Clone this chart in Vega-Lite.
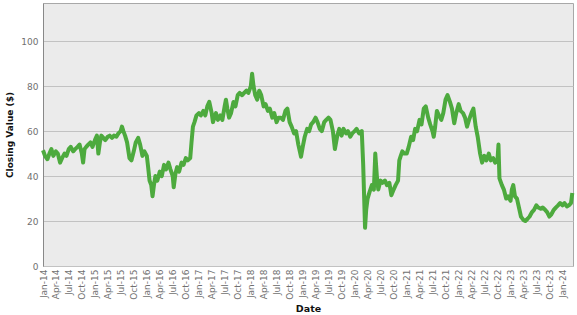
{
  "$schema": "https://vega.github.io/schema/vega-lite/v6.json",
  "width": 530,
  "height": 263,
  "autosize": {"type": "none"},
  "padding": {"left": 43, "top": 3, "right": 4, "bottom": 49},
  "background": "#ffffff",
  "config": {
    "view": {"fill": "#EBEBEB", "stroke": "#A8A8A8", "strokeWidth": 1},
    "axis": {"labelFont": "DejaVu Sans", "titleFont": "DejaVu Sans", "labelColor": "#707070", "titleColor": "#111111", "titleFontWeight": "bold"}
  },
  "data": {"values": [
    {"d":"2014-01-01","v":51.5},{"d":"2014-01-15","v":49},{"d":"2014-02-01","v":47.5},{"d":"2014-02-15","v":50},{"d":"2014-03-01","v":52},{"d":"2014-03-15","v":49},{"d":"2014-04-01","v":51},{"d":"2014-04-15","v":50},{"d":"2014-05-01","v":46},{"d":"2014-05-15","v":48},{"d":"2014-06-01","v":50},{"d":"2014-06-15","v":49},{"d":"2014-07-01","v":52},{"d":"2014-07-15","v":53},{"d":"2014-08-01","v":51},{"d":"2014-08-15","v":52},{"d":"2014-09-01","v":53},{"d":"2014-09-15","v":54},{"d":"2014-10-01","v":50},{"d":"2014-10-10","v":46},{"d":"2014-10-20","v":52},{"d":"2014-11-01","v":53},{"d":"2014-11-15","v":54},{"d":"2014-12-01","v":55},{"d":"2014-12-15","v":53},
    {"d":"2015-01-01","v":56},{"d":"2015-01-15","v":58},{"d":"2015-01-25","v":50},{"d":"2015-02-05","v":55},{"d":"2015-02-15","v":58},{"d":"2015-03-01","v":57},{"d":"2015-03-15","v":56},{"d":"2015-04-01","v":57.5},{"d":"2015-04-15","v":58},{"d":"2015-05-01","v":57},{"d":"2015-05-15","v":58},{"d":"2015-06-01","v":57.5},{"d":"2015-06-15","v":59},{"d":"2015-07-01","v":60},{"d":"2015-07-10","v":62},{"d":"2015-07-20","v":60},{"d":"2015-08-01","v":58},{"d":"2015-08-15","v":55},{"d":"2015-09-01","v":48},{"d":"2015-09-15","v":47},{"d":"2015-10-01","v":51},{"d":"2015-10-15","v":55},{"d":"2015-11-01","v":57},{"d":"2015-11-15","v":54},{"d":"2015-12-01","v":49},{"d":"2015-12-15","v":51},
    {"d":"2016-01-01","v":49},{"d":"2016-01-10","v":44},{"d":"2016-01-20","v":38},{"d":"2016-02-01","v":36},{"d":"2016-02-10","v":31},{"d":"2016-02-20","v":36},{"d":"2016-03-01","v":40},{"d":"2016-03-15","v":38},{"d":"2016-04-01","v":42},{"d":"2016-04-15","v":40},{"d":"2016-05-01","v":45},{"d":"2016-05-15","v":43},{"d":"2016-06-01","v":46},{"d":"2016-06-15","v":43},{"d":"2016-07-01","v":40},{"d":"2016-07-08","v":35},{"d":"2016-07-20","v":41},{"d":"2016-08-01","v":44},{"d":"2016-08-15","v":42},{"d":"2016-09-01","v":46},{"d":"2016-09-15","v":45},{"d":"2016-10-01","v":48},{"d":"2016-10-15","v":47},{"d":"2016-11-01","v":48},{"d":"2016-11-10","v":55},{"d":"2016-11-20","v":62},{"d":"2016-12-01","v":64},{"d":"2016-12-15","v":67},
    {"d":"2017-01-01","v":68},{"d":"2017-01-15","v":67},{"d":"2017-02-01","v":69},{"d":"2017-02-15","v":67},{"d":"2017-03-01","v":71},{"d":"2017-03-15","v":73},{"d":"2017-04-01","v":68},{"d":"2017-04-10","v":64},{"d":"2017-04-20","v":66},{"d":"2017-05-01","v":68},{"d":"2017-05-15","v":65},{"d":"2017-06-01","v":67},{"d":"2017-06-15","v":65},{"d":"2017-07-01","v":71},{"d":"2017-07-10","v":74},{"d":"2017-07-20","v":70},{"d":"2017-08-01","v":66},{"d":"2017-08-15","v":68},{"d":"2017-09-01","v":73},{"d":"2017-09-15","v":71},{"d":"2017-10-01","v":76},{"d":"2017-10-15","v":77},{"d":"2017-11-01","v":76},{"d":"2017-11-15","v":77},{"d":"2017-12-01","v":78},{"d":"2017-12-15","v":77},
    {"d":"2018-01-01","v":80},{"d":"2018-01-10","v":85.5},{"d":"2018-01-20","v":80},{"d":"2018-02-01","v":76},{"d":"2018-02-15","v":74},{"d":"2018-03-01","v":78},{"d":"2018-03-15","v":76},{"d":"2018-04-01","v":71},{"d":"2018-04-15","v":72},{"d":"2018-05-01","v":69},{"d":"2018-05-15","v":70},{"d":"2018-06-01","v":66},{"d":"2018-06-15","v":68},{"d":"2018-07-01","v":64},{"d":"2018-07-15","v":66},{"d":"2018-08-01","v":66},{"d":"2018-08-15","v":65},{"d":"2018-09-01","v":69},{"d":"2018-09-15","v":70},{"d":"2018-10-01","v":64},{"d":"2018-10-15","v":62},{"d":"2018-11-01","v":59},{"d":"2018-11-15","v":60},{"d":"2018-12-01","v":54},{"d":"2018-12-20","v":48.6},
    {"d":"2019-01-01","v":53},{"d":"2019-01-15","v":57.5},{"d":"2019-02-01","v":61},{"d":"2019-02-15","v":60},{"d":"2019-03-01","v":63},{"d":"2019-03-15","v":64},{"d":"2019-04-01","v":66},{"d":"2019-04-15","v":64},{"d":"2019-05-01","v":61},{"d":"2019-05-15","v":60},{"d":"2019-06-01","v":64},{"d":"2019-06-15","v":65},{"d":"2019-07-01","v":66},{"d":"2019-07-15","v":65},{"d":"2019-08-01","v":60},{"d":"2019-08-15","v":52},{"d":"2019-09-01","v":58},{"d":"2019-09-15","v":61},{"d":"2019-10-01","v":58},{"d":"2019-10-15","v":61},{"d":"2019-11-01","v":59},{"d":"2019-11-15","v":60},{"d":"2019-12-01","v":57.5},{"d":"2019-12-15","v":59},
    {"d":"2020-01-01","v":60},{"d":"2020-01-15","v":61},{"d":"2020-02-01","v":59},{"d":"2020-02-20","v":60},{"d":"2020-03-01","v":45},{"d":"2020-03-08","v":30},{"d":"2020-03-14","v":17},{"d":"2020-03-22","v":25},{"d":"2020-04-01","v":30},{"d":"2020-04-15","v":33},{"d":"2020-05-01","v":36},{"d":"2020-05-15","v":34},{"d":"2020-05-25","v":50},{"d":"2020-06-05","v":40},{"d":"2020-06-15","v":34},{"d":"2020-07-01","v":38},{"d":"2020-07-15","v":37},{"d":"2020-08-01","v":38},{"d":"2020-08-15","v":36},{"d":"2020-09-01","v":37},{"d":"2020-09-15","v":31.5},{"d":"2020-10-01","v":34},{"d":"2020-10-15","v":36},{"d":"2020-11-01","v":38},{"d":"2020-11-10","v":47},{"d":"2020-11-20","v":49},{"d":"2020-12-01","v":51},{"d":"2020-12-15","v":50},
    {"d":"2021-01-01","v":50},{"d":"2021-01-15","v":53},{"d":"2021-02-01","v":57.5},{"d":"2021-02-15","v":56},{"d":"2021-03-01","v":61},{"d":"2021-03-15","v":60},{"d":"2021-04-01","v":65},{"d":"2021-04-15","v":63},{"d":"2021-05-01","v":70},{"d":"2021-05-15","v":71},{"d":"2021-06-01","v":66},{"d":"2021-06-15","v":63},{"d":"2021-07-01","v":60},{"d":"2021-07-10","v":57.5},{"d":"2021-07-20","v":62},{"d":"2021-08-01","v":69},{"d":"2021-08-15","v":67},{"d":"2021-09-01","v":65},{"d":"2021-09-15","v":68},{"d":"2021-10-01","v":74},{"d":"2021-10-15","v":76},{"d":"2021-11-01","v":73},{"d":"2021-11-15","v":70},{"d":"2021-12-01","v":63.5},{"d":"2021-12-15","v":68},
    {"d":"2022-01-01","v":72},{"d":"2022-01-15","v":69},{"d":"2022-02-01","v":68},{"d":"2022-02-15","v":66},{"d":"2022-03-01","v":62},{"d":"2022-03-15","v":65},{"d":"2022-04-01","v":68},{"d":"2022-04-15","v":70},{"d":"2022-05-01","v":62},{"d":"2022-05-15","v":57.5},{"d":"2022-06-01","v":50},{"d":"2022-06-15","v":46},{"d":"2022-07-01","v":49},{"d":"2022-07-15","v":47},{"d":"2022-08-01","v":50},{"d":"2022-08-15","v":47},{"d":"2022-09-01","v":48},{"d":"2022-09-15","v":46},{"d":"2022-10-01","v":47},{"d":"2022-10-08","v":54},{"d":"2022-10-15","v":39},{"d":"2022-11-01","v":36},{"d":"2022-11-15","v":34},{"d":"2022-12-01","v":30},{"d":"2022-12-15","v":31},
    {"d":"2023-01-01","v":29},{"d":"2023-01-10","v":34},{"d":"2023-01-20","v":36},{"d":"2023-02-01","v":31},{"d":"2023-02-15","v":30},{"d":"2023-03-01","v":26},{"d":"2023-03-15","v":22},{"d":"2023-04-01","v":20.5},{"d":"2023-04-15","v":20},{"d":"2023-05-01","v":21},{"d":"2023-05-15","v":22},{"d":"2023-06-01","v":24},{"d":"2023-06-15","v":25},{"d":"2023-07-01","v":27},{"d":"2023-07-15","v":26},{"d":"2023-08-01","v":25.5},{"d":"2023-08-15","v":26},{"d":"2023-09-01","v":25},{"d":"2023-09-15","v":24},{"d":"2023-10-01","v":22},{"d":"2023-10-15","v":23},{"d":"2023-11-01","v":25},{"d":"2023-11-15","v":26},{"d":"2023-12-01","v":27},{"d":"2023-12-15","v":28},
    {"d":"2024-01-01","v":27},{"d":"2024-01-15","v":28},{"d":"2024-02-01","v":26.5},{"d":"2024-02-15","v":27},{"d":"2024-03-01","v":28},{"d":"2024-03-10","v":32.5}
  ]},
  "mark": {"type": "line", "color": "#4DAA3E", "strokeWidth": 4, "strokeJoin": "round"},
  "encoding": {
    "x": {
      "field": "d", "type": "temporal", "title": "Date",
      "scale": {"domain": [{"year": 2014, "month": 1, "date": 1}, {"year": 2024, "month": 3, "date": 15}], "nice": false},
      "axis": {
        "values": [
          {"year":2014,"month":1,"date":1},{"year":2014,"month":4,"date":1},{"year":2014,"month":7,"date":1},{"year":2014,"month":10,"date":1},
          {"year":2015,"month":1,"date":1},{"year":2015,"month":4,"date":1},{"year":2015,"month":7,"date":1},{"year":2015,"month":10,"date":1},
          {"year":2016,"month":1,"date":1},{"year":2016,"month":4,"date":1},{"year":2016,"month":7,"date":1},{"year":2016,"month":10,"date":1},
          {"year":2017,"month":1,"date":1},{"year":2017,"month":4,"date":1},{"year":2017,"month":7,"date":1},{"year":2017,"month":10,"date":1},
          {"year":2018,"month":1,"date":1},{"year":2018,"month":4,"date":1},{"year":2018,"month":7,"date":1},{"year":2018,"month":10,"date":1},
          {"year":2019,"month":1,"date":1},{"year":2019,"month":4,"date":1},{"year":2019,"month":7,"date":1},{"year":2019,"month":10,"date":1},
          {"year":2020,"month":1,"date":1},{"year":2020,"month":4,"date":1},{"year":2020,"month":7,"date":1},{"year":2020,"month":10,"date":1},
          {"year":2021,"month":1,"date":1},{"year":2021,"month":4,"date":1},{"year":2021,"month":7,"date":1},{"year":2021,"month":10,"date":1},
          {"year":2022,"month":1,"date":1},{"year":2022,"month":4,"date":1},{"year":2022,"month":7,"date":1},{"year":2022,"month":10,"date":1},
          {"year":2023,"month":1,"date":1},{"year":2023,"month":4,"date":1},{"year":2023,"month":7,"date":1},{"year":2023,"month":10,"date":1},
          {"year":2024,"month":1,"date":1}
        ],
        "format": "%b-%y", "labelAngle": -90, "labelFontSize": 9, "labelPadding": 3, "labelOverlap": false, "labelFlush": false,
        "ticks": false, "grid": false, "domain": false, "titleFontSize": 9.5, "titlePadding": 4
      }
    },
    "y": {
      "field": "v", "type": "quantitative", "title": "Closing Value ($)",
      "scale": {"domain": [0, 117], "nice": false, "zero": true},
      "axis": {
        "values": [0, 20, 40, 60, 80, 100], "labelFontSize": 9, "labelPadding": 5,
        "ticks": false, "grid": true, "gridColor": "#C2C2C2", "gridWidth": 1,
        "domain": true, "domainColor": "#888888", "titleFontSize": 9, "titlePadding": 6
      }
    }
  }
}
